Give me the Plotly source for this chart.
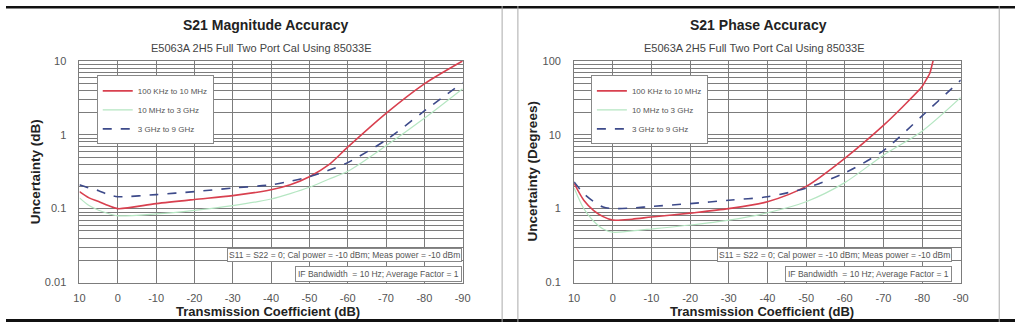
import plotly.graph_objects as go

# Transmission coefficient sweep points (dB)
mag_x = [10, 7.5, 5, 2.5, 0, -10, -20, -30, -40, -45, -50, -55, -60, -70, -80, -90]
mag_red = [0.17, 0.14, 0.125, 0.11, 0.1, 0.117, 0.133, 0.15, 0.18, 0.21, 0.27, 0.39, 0.68, 1.95, 4.9, 10.0]
mag_green = [0.14, 0.11, 0.095, 0.086, 0.08, 0.085, 0.095, 0.11, 0.135, 0.16, 0.195, 0.25, 0.32, 0.71, 1.67, 4.2]
mag_blue = [0.21, 0.19, 0.175, 0.155, 0.145, 0.155, 0.17, 0.19, 0.21, 0.235, 0.27, 0.33, 0.42, 0.85, 2.1, 5.1]

ph_x_red = [10, 7.5, 5, 2.5, 0, -5, -10, -20, -30, -40, -50, -60, -70, -75, -80, -81, -82, -82.5, -83, -83.5]
ph_red = [2.2, 1.3, 0.95, 0.78, 0.7, 0.72, 0.77, 0.87, 1.0, 1.24, 2.0, 4.8, 13.4, 24, 45, 55, 68, 85, 110, 200]
ph_x = [10, 7.5, 5, 2.5, 0, -5, -10, -20, -30, -40, -50, -60, -70, -80, -90]
ph_green = [1.9, 1.0, 0.68, 0.53, 0.48, 0.5, 0.53, 0.6, 0.7, 0.88, 1.24, 2.25, 5.3, 11.2, 32]
ph_blue = [2.3, 1.6, 1.25, 1.05, 1.0, 1.02, 1.07, 1.17, 1.3, 1.45, 1.9, 3.05, 6.1, 18, 55]

series_names = ["100 KHz to 10 MHz", "10 MHz to 3 GHz", "3 GHz to 9 GHz"]
mag_ticks = [0.01, 0.1, 1, 10]
mag_ticktext = ["0.01", "0.1", "1", "10"]
ph_ticks = [0.1, 1, 10, 100]
ph_ticktext = ["0.1", "1", "10", "100"]
x_ticks = list(range(10, -91, -10))

W, H = 1023, 328
RED, GREEN, BLUE = "#d8404f", "#b5e6c2", "#3d4a8a"
FONT = "Liberation Sans, Arial, sans-serif"


def px(x):
    return x / W


def py(y):
    return (H - y) / H


fig = go.Figure()

styles = [dict(color=RED, width=1.6), dict(color=GREEN, width=1.2), dict(color=BLUE, width=1.6, dash="dash")]

# Left panel: magnitude
for name, xs, ys, st in zip(series_names, [mag_x] * 3, [mag_red, mag_green, mag_blue], styles):
    fig.add_trace(go.Scatter(x=xs, y=ys, name=name, mode="lines", line=dict(shape="spline", smoothing=0.8, **st),
                             xaxis="x", yaxis="y", legend="legend"))

# Right panel: phase
for name, xs, ys, st in zip(series_names, [ph_x_red, ph_x, ph_x], [ph_red, ph_green, ph_blue], styles):
    fig.add_trace(go.Scatter(x=xs, y=ys, name=name, mode="lines", line=dict(shape="spline", smoothing=0.8, **st),
                             xaxis="x2", yaxis="y2", legend="legend2"))

GRID = "#7c7c7c"


def minor_vals(lo, hi):
    vals = []
    d = lo
    while d < hi:
        vals += [d * k for k in range(2, 10)]
        d *= 10
    return vals


xaxis_common = dict(range=[10, -90], tickvals=x_ticks, ticktext=[str(v) for v in x_ticks],
                    showgrid=True, gridcolor=GRID, gridwidth=1, zeroline=False,
                    showline=True, linecolor=GRID, mirror=True,
                    tickfont=dict(family=FONT, size=11, color="#555"), ticks="", ticklabelstandoff=5)
yaxis_common = dict(type="log", showgrid=True, gridcolor=GRID, gridwidth=1, zeroline=False,
                    showline=True, linecolor=GRID, mirror=True,
                    tickfont=dict(family=FONT, size=11, color="#555"), ticks="", ticklabelstandoff=10)

ydom = [py(287), py(57)]
fig.update_layout(
    width=W, height=H, margin=dict(l=0, r=0, t=0, b=0),
    paper_bgcolor="white", plot_bgcolor="white",
    xaxis=dict(domain=[px(74.5), px(463)], anchor="y", **xaxis_common),
    yaxis=dict(domain=ydom, anchor="x", range=[-2, 1], tickvals=mag_ticks, ticktext=mag_ticktext,
               minor=dict(tickvals=minor_vals(0.01, 10), showgrid=True, gridcolor=GRID, gridwidth=1),
               **yaxis_common),
    xaxis2=dict(domain=[px(576), px(968)], anchor="y2", **xaxis_common),
    yaxis2=dict(domain=ydom, anchor="x2", range=[-1, 2], tickvals=ph_ticks, ticktext=ph_ticktext,
                minor=dict(tickvals=minor_vals(0.1, 100), showgrid=True, gridcolor=GRID, gridwidth=1),
                **yaxis_common),
    legend=dict(x=px(92), y=py(72), xanchor="left", yanchor="top", bgcolor="white",
                bordercolor="#888", borderwidth=1, font=dict(family=FONT, size=8, color="#555"),
                itemwidth=30, tracegroupgap=0),
    legend2=dict(x=px(593), y=py(72), xanchor="left", yanchor="top", bgcolor="white",
                 bordercolor="#888", borderwidth=1, font=dict(family=FONT, size=8, color="#555"),
                 itemwidth=30, tracegroupgap=0),
)

ann = []
for cx, title, ytitle, cx_x in [(263, "S21 Magnitude Accuracy", "Uncertainty (dB)", 30),
                                (763, "S21 Phase Accuracy", "Uncertainty (Degrees)", 534)]:
    ann.append(dict(x=px(cx), y=py(20), text="<b>" + title + "</b>",
                    font=dict(family=FONT, size=14, color="#222")))
    ann.append(dict(x=px(cx - 4), y=py(44), text="E5063A 2H5 Full Two Port Cal Using 85033E",
                    font=dict(family=FONT, size=11, color="#444")))
    ann.append(dict(x=px(cx + 3), y=py(317), text="<b>Transmission Coefficient (dB)</b>",
                    font=dict(family=FONT, size=13, color="#222")))
    ann.append(dict(x=px(cx_x), y=py(172), text="<b>" + ytitle + "</b>", textangle=-90,
                    font=dict(family=FONT, size=13.5, color="#222")))
for a in ann:
    a.update(xanchor="center", yanchor="middle")

for right in [462, 959]:
    ann.append(dict(x=px(right), y=py(266), xanchor="right", yanchor="bottom",
                    text="S11 = S22 = 0; Cal power = -10 dBm; Meas power = -10 dBm",
                    font=dict(family=FONT, size=8.5, color="#555"), bgcolor="white",
                    bordercolor="#888", borderwidth=1, borderpad=1))
    ann.append(dict(x=px(right), y=py(286), xanchor="right", yanchor="bottom",
                    text="IF Bandwidth  = 10 Hz; Average Factor = 1",
                    font=dict(family=FONT, size=8.5, color="#555"), bgcolor="white",
                    bordercolor="#888", borderwidth=1, borderpad=2))
for a in ann:
    a.update(xref="paper", yref="paper", showarrow=False)
fig.update_layout(annotations=ann)

# Table frame around the two panels
shapes = [
    dict(type="rect", xref="paper", yref="paper", x0=0, x1=1, y0=py(2.5), y1=1, fillcolor="#111", line_width=0),
    dict(type="rect", xref="paper", yref="paper", x0=0, x1=1, y0=0, y1=py(325), fillcolor="#111", line_width=0),
]
for xv in [503, 519, 1007]:
    shapes.append(dict(type="line", xref="paper", yref="paper", x0=px(xv), x1=px(xv), y0=0, y1=1,
                       line=dict(color="#aaa", width=1)))
fig.update_layout(shapes=shapes)

fig.write_html("out.html")
